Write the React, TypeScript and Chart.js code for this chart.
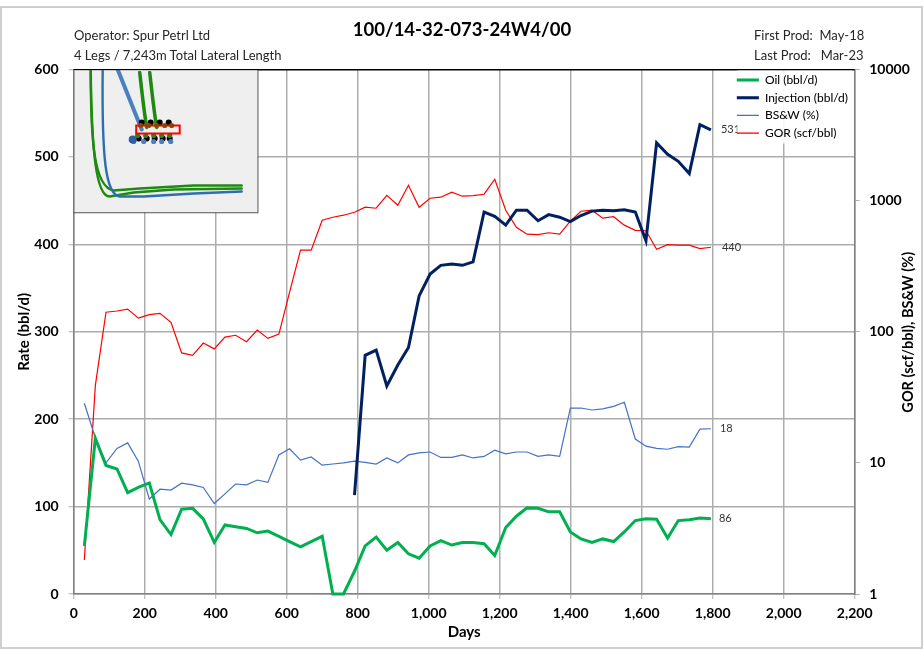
import React, { useEffect, useRef } from "react";
import { Chart, registerables } from "chart.js";

Chart.register(...registerables);

const FONT = "Lato, 'Open Sans', sans-serif";

const days = [30, 61, 91, 122, 152, 182, 213, 243, 274, 304, 335, 365, 396, 426, 456, 487, 517, 547, 578, 608, 639, 669, 700, 730, 760, 791, 821, 852, 882, 913, 943, 973, 1004, 1034, 1065, 1095, 1125, 1156, 1186, 1217, 1247, 1277, 1308, 1338, 1369, 1399, 1429, 1460, 1490, 1521, 1551, 1582, 1612, 1642, 1673, 1703, 1734, 1764, 1795];

const oil = [55, 178, 147, 143, 116, 122, 127, 85, 68, 97, 98, 86, 59, 79, 77, 75, 70, 72, 66, 60, 54, 60, 66, 0, 0, 26, 55, 65, 50, 59, 46, 41, 55, 61, 56, 59, 59, 57.5, 44, 76, 89, 98.5, 98, 94, 94, 71, 63, 59, 63, 60, 71, 84, 86, 85.5, 64, 84, 85, 87, 86];

const injectionDays = [791, 821, 852, 882, 913, 943, 973, 1004, 1034, 1065, 1095, 1125, 1156, 1186, 1217, 1247, 1277, 1308, 1338, 1369, 1399, 1429, 1460, 1490, 1521, 1551, 1582, 1612, 1642, 1673, 1703, 1734, 1764, 1795];
const injection = [113, 273, 279, 238, 262, 282, 341, 366, 376, 377.5, 376, 380, 437, 432, 422, 439, 439, 427, 434, 431, 426, 433, 438, 439, 438.5, 439.5, 437, 404, 516, 503, 495, 481, 537, 531];

const bsw = [28.5, 15.5, 10, 12.9, 14.2, 10.3, 5.3, 6.3, 6.2, 7, 6.8, 6.5, 4.9, 5.8, 6.9, 6.8, 7.4, 7.1, 11.5, 12.8, 10.5, 11.1, 9.6, 9.8, 10, 10.3, 10.1, 9.8, 10.9, 10, 11.5, 11.9, 12.1, 11, 11, 11.5, 10.9, 11.2, 12.5, 11.7, 12.1, 12.1, 11.2, 11.5, 11.2, 26.2, 26.2, 25.3, 25.8, 27, 29, 15.2, 13.4, 12.9, 12.7, 13.3, 13.2, 18.1, 18.2];

const gor = [1.82, 39, 141, 144, 149, 127, 135, 138, 118, 69, 66, 82, 74, 91, 94, 84, 103, 89, 96, 200, 419, 419, 709, 747, 774, 816, 891, 875, 1099, 923, 1310, 891, 1043, 1062, 1159, 1081, 1090, 1119, 1455, 845, 627, 555, 550, 569, 555, 697, 830, 845, 735, 754, 650, 594, 589, 426, 461, 457, 457, 430, 441];

const endLabels = [
  { text: "531", series: injection, axis: "y", dx: 10, dy: 0 },
  { text: "440", series: gor, axis: "y1", dx: 11, dy: 0 },
  { text: "18", series: bsw, axis: "y1", dx: 9, dy: 0 },
  { text: "86", series: oil, axis: "y", dx: 8, dy: 0 },
];

const rightAxisTitle = "GOR (scf/bbl), BS&W (%)";

function toPoints(xs: number[], ys: number[]) {
  return xs.map((x, i) => ({ x, y: ys[i] }));
}

// Decorative well-trajectory inset (a picture in the reference, not chart data)
function drawInset(ctx: CanvasRenderingContext2D, a: any) {
  const x0 = a.left;
  const y0 = a.top;
  ctx.save();
  ctx.fillStyle = "#efefef";
  ctx.fillRect(x0, y0, 184, 143);
  ctx.beginPath();
  ctx.rect(x0, y0, 184, 143);
  ctx.clip();
  ctx.translate(x0, y0);
  (ctx as any).filter = "blur(0.5px)";
  const curve = (c: string, w: number, p: number[][]) => {
    ctx.strokeStyle = c;
    ctx.lineWidth = w;
    ctx.lineCap = "round";
    ctx.beginPath();
    ctx.moveTo(p[0][0], p[0][1]);
    ctx.bezierCurveTo(p[1][0], p[1][1], p[2][0], p[2][1], p[3][0], p[3][1]);
    for (let i = 4; i < p.length; i++) ctx.lineTo(p[i][0], p[i][1]);
    ctx.stroke();
  };
  curve("#1d8a10", 2.4, [[17, 0], [17, 70], [20, 118], [40, 121], [66, 119], [120, 116], [168, 116]]);
  curve("#1d8a10", 2.4, [[17, 0], [18, 80], [22, 127], [36, 127], [60, 123], [100, 120], [168, 119]]);
  curve("#2c6fb0", 2.4, [[29, 0], [28, 90], [32, 125], [46, 127], [70, 127], [120, 124], [168, 122]]);
  curve("#4a7fc0", 4, [[44, 0], [52, 20], [60, 40], [68, 60]]);
  curve("#1d8a10", 3.5, [[66, 3], [68, 20], [70, 40], [73, 58]]);
  curve("#1d8a10", 3.5, [[76, 3], [78, 20], [80, 40], [83, 58]]);
  (ctx as any).filter = "blur(0.4px)";
  const dot = (c: string, x: number, y: number, r: number) => {
    ctx.fillStyle = c;
    ctx.beginPath();
    ctx.arc(x, y, r, 0, Math.PI * 2);
    ctx.fill();
  };
  [68, 77, 86, 95].forEach((x) => dot("#000", x, 53, 3));
  [65, 73, 81, 89, 96].forEach((x) => dot("#000", x, 69, 3));
  [67, 75, 83, 91, 98].forEach((x) => dot("#1d8a10", x, 56, 2.6));
  [64, 72, 80, 88, 96].forEach((x) => dot("#1d8a10", x, 66, 2.6));
  [60, 70, 80, 88, 97].forEach((x) => dot("#4a7fc0", x, 72, 2.6));
  dot("#2c5ea0", 59, 70, 4);
  (ctx as any).filter = "none";
  ctx.strokeStyle = "#ff0000";
  ctx.lineWidth = 2;
  ctx.strokeRect(62.5, 56, 43.5, 8);
  ctx.restore();
  ctx.save();
  ctx.strokeStyle = "#555";
  ctx.lineWidth = 1;
  ctx.strokeRect(x0 + 0.25, y0 + 0.25, 184, 143);
  ctx.restore();
}

const decorPlugin = {
  id: "decor",
  afterLayout(chart: any) {
    const lg = chart.legend;
    lg.left = chart.chartArea.left + 657.5;
    lg.right = lg.left + lg.width;
    lg.top = chart.chartArea.top - 1.2;
    lg.bottom = lg.top + lg.height;
  },
  beforeDraw(chart: any) {
    const ctx = chart.ctx;
    ctx.save();
    ctx.fillStyle = "#fff";
    ctx.fillRect(0, 0, chart.width, chart.height);
    ctx.strokeStyle = "#cfcfcf";
    ctx.lineWidth = 2;
    ctx.strokeRect(1, 7, 921, 641);
    ctx.restore();
  },
  afterDatasetsDraw(chart: any) {
    const ctx = chart.ctx;
    const a = chart.chartArea;
    ctx.save();
    ctx.font = `11px ${FONT}`;
    ctx.fillStyle = "#333";
    ctx.textBaseline = "middle";
    ctx.textAlign = "left";
    const xs = chart.scales.x;
    for (const l of endLabels) {
      const v = l.series[l.series.length - 1];
      ctx.fillText(l.text, xs.getPixelForValue(days[days.length - 1]) + l.dx, chart.scales[l.axis].getPixelForValue(v) + l.dy);
    }
    // translucent legend backing
    ctx.fillStyle = "rgba(255,255,255,0.88)";
    ctx.fillRect(a.left + 663.5, a.top + 1, 115, 73);
    ctx.restore();
    chart.legend.draw();
    drawInset(ctx, a);
    // top edge of the plot
    ctx.save();
    ctx.strokeStyle = "#000";
    ctx.lineWidth = 1;
    ctx.beginPath();
    ctx.moveTo(a.left, a.top);
    ctx.lineTo(a.right, a.top);
    ctx.stroke();
    // right axis title reads bottom-to-top
    ctx.translate(908, (a.top + a.bottom) / 2 + 0.5);
    ctx.rotate(-Math.PI / 2);
    ctx.font = `bold 14.5px ${FONT}`;
    ctx.fillStyle = "#000";
    ctx.textAlign = "center";
    ctx.textBaseline = "middle";
    ctx.fillText(rightAxisTitle, 0, 0);
    ctx.restore();
  },
};

const tickFont = { family: FONT, size: 14, weight: "bold" as const };
const titleFont = { family: FONT, size: 15, weight: "bold" as const };
const GRID = "#adadad";
const AXIS = "#808080";

const headerStyle = (extra: React.CSSProperties): React.CSSProperties => ({
  position: "absolute",
  font: `13px ${FONT}`,
  color: "#262626",
  whiteSpace: "pre",
  lineHeight: "16px",
  ...extra,
});

export default function App() {
  const ref = useRef<HTMLCanvasElement>(null);
  useEffect(() => {
    const chart = new Chart(ref.current as HTMLCanvasElement, {
      type: "line",
      data: {
        datasets: [
          { label: "Oil (bbl/d)", data: toPoints(days, oil), borderColor: "#00b050", backgroundColor: "#00b050", borderWidth: 3, yAxisID: "y", order: 1 },
          { label: "Injection (bbl/d)", data: toPoints(injectionDays, injection), borderColor: "#002060", backgroundColor: "#002060", borderWidth: 3, yAxisID: "y", order: 2 },
          { label: "BS&W (%)", data: toPoints(days, bsw), borderColor: "#4472c4", backgroundColor: "#4472c4", borderWidth: 1.2, yAxisID: "y1", order: 3 },
          { label: "GOR (scf/bbl)", data: toPoints(days, gor), borderColor: "#ff0000", backgroundColor: "#ff0000", borderWidth: 1.2, yAxisID: "y1", order: 4 },
        ].map((d) => ({ ...d, pointRadius: 0, pointStyle: "line", tension: 0, clip: false })) as any,
      },
      plugins: [decorPlugin as any],
      options: {
        responsive: false,
        animation: false,
        parsing: false as any,
        events: [],
        layout: { padding: 0 },
        plugins: {
          tooltip: { enabled: false },
          title: {
            display: true,
            text: "100/14-32-073-24W4/00",
            color: "#000",
            font: { family: FONT, size: 18.5, weight: "bold", lineHeight: 1.2 },
            padding: { top: 19, bottom: 28.3 },
          },
          legend: {
            position: "chartArea" as any,
            align: "start",
            labels: {
              usePointStyle: true,
              pointStyleWidth: 22,
              color: "#262626",
              font: { family: FONT, size: 12 },
              padding: 5.7,
              boxHeight: 12,
              generateLabels: (c: any) =>
                c.data.datasets.map((d: any, i: number) => ({
                  text: d.label,
                  datasetIndex: i,
                  fillStyle: d.borderColor,
                  strokeStyle: d.borderColor,
                  lineWidth: d.borderWidth >= 2 ? 3 : 1.2,
                  pointStyle: "line",
                  hidden: false,
                })),
            },
          },
        },
        scales: {
          x: {
            type: "linear",
            min: 0,
            max: 2200,
            afterFit: (s: any) => { s.height = 55; },
            grid: { color: GRID, lineWidth: 1.5, tickLength: 5, tickColor: GRID, tickWidth: 1 },
            border: { color: AXIS, width: 1.5 },
            ticks: {
              stepSize: 200,
              color: "#000",
              font: tickFont,
              padding: 6,
              maxRotation: 0,
              callback: (v: any) => Number(v).toLocaleString("en-US"),
            },
            title: { display: true, text: "Days", color: "#000", font: titleFont, padding: { top: 0, bottom: 8 } },
          },
          y: {
            type: "linear",
            position: "left",
            min: 0,
            max: 600,
            afterFit: (s: any) => { s.width = 73.7; },
            grid: {
              color: (c: any) => (c.tick && c.tick.value === 600 ? "#000" : GRID),
              lineWidth: 1.5,
              tickLength: 5,
              tickColor: GRID,
              tickWidth: 1,
            },
            border: { color: AXIS, width: 1.5 },
            ticks: { stepSize: 100, color: "#000", font: tickFont, padding: 10 },
            title: { display: true, text: "Rate (bbl/d)", color: "#000", font: titleFont, padding: { top: 15, bottom: 0 } },
          },
          y1: {
            type: "logarithmic",
            position: "right",
            min: 1,
            max: 10000,
            afterFit: (s: any) => { s.width = 69.3; },
            afterBuildTicks: (s: any) => {
              s.ticks = s.ticks.filter((t: any) => Math.abs(Math.log10(t.value) - Math.round(Math.log10(t.value))) < 1e-6);
            },
            grid: { drawOnChartArea: false, tickLength: 5, tickColor: GRID, tickWidth: 1 },
            border: { color: AXIS, width: 1.5 },
            ticks: {
              color: "#000",
              font: tickFont,
              padding: 9.5,
              autoSkip: false,
              callback: (v: any) => String(v),
            },
          },
        },
      },
    });
    return () => chart.destroy();
  }, []);
  return (
    <div style={{ position: "absolute", left: 0, top: 0, width: 924, height: 649, overflow: "hidden", background: "#fff" }}>
      <canvas ref={ref} width={924} height={649} style={{ display: "block" }} />
      <div style={headerStyle({ left: 74, top: 27 })}>Operator: Spur Petrl Ltd</div>
      <div style={headerStyle({ left: 74, top: 47 })}>4 Legs / 7,243m Total Lateral Length</div>
      <div style={headerStyle({ left: 754, top: 27 })}>First Prod:  May-18</div>
      <div style={headerStyle({ left: 754, top: 47 })}>Last Prod:   Mar-23</div>
    </div>
  );
}
